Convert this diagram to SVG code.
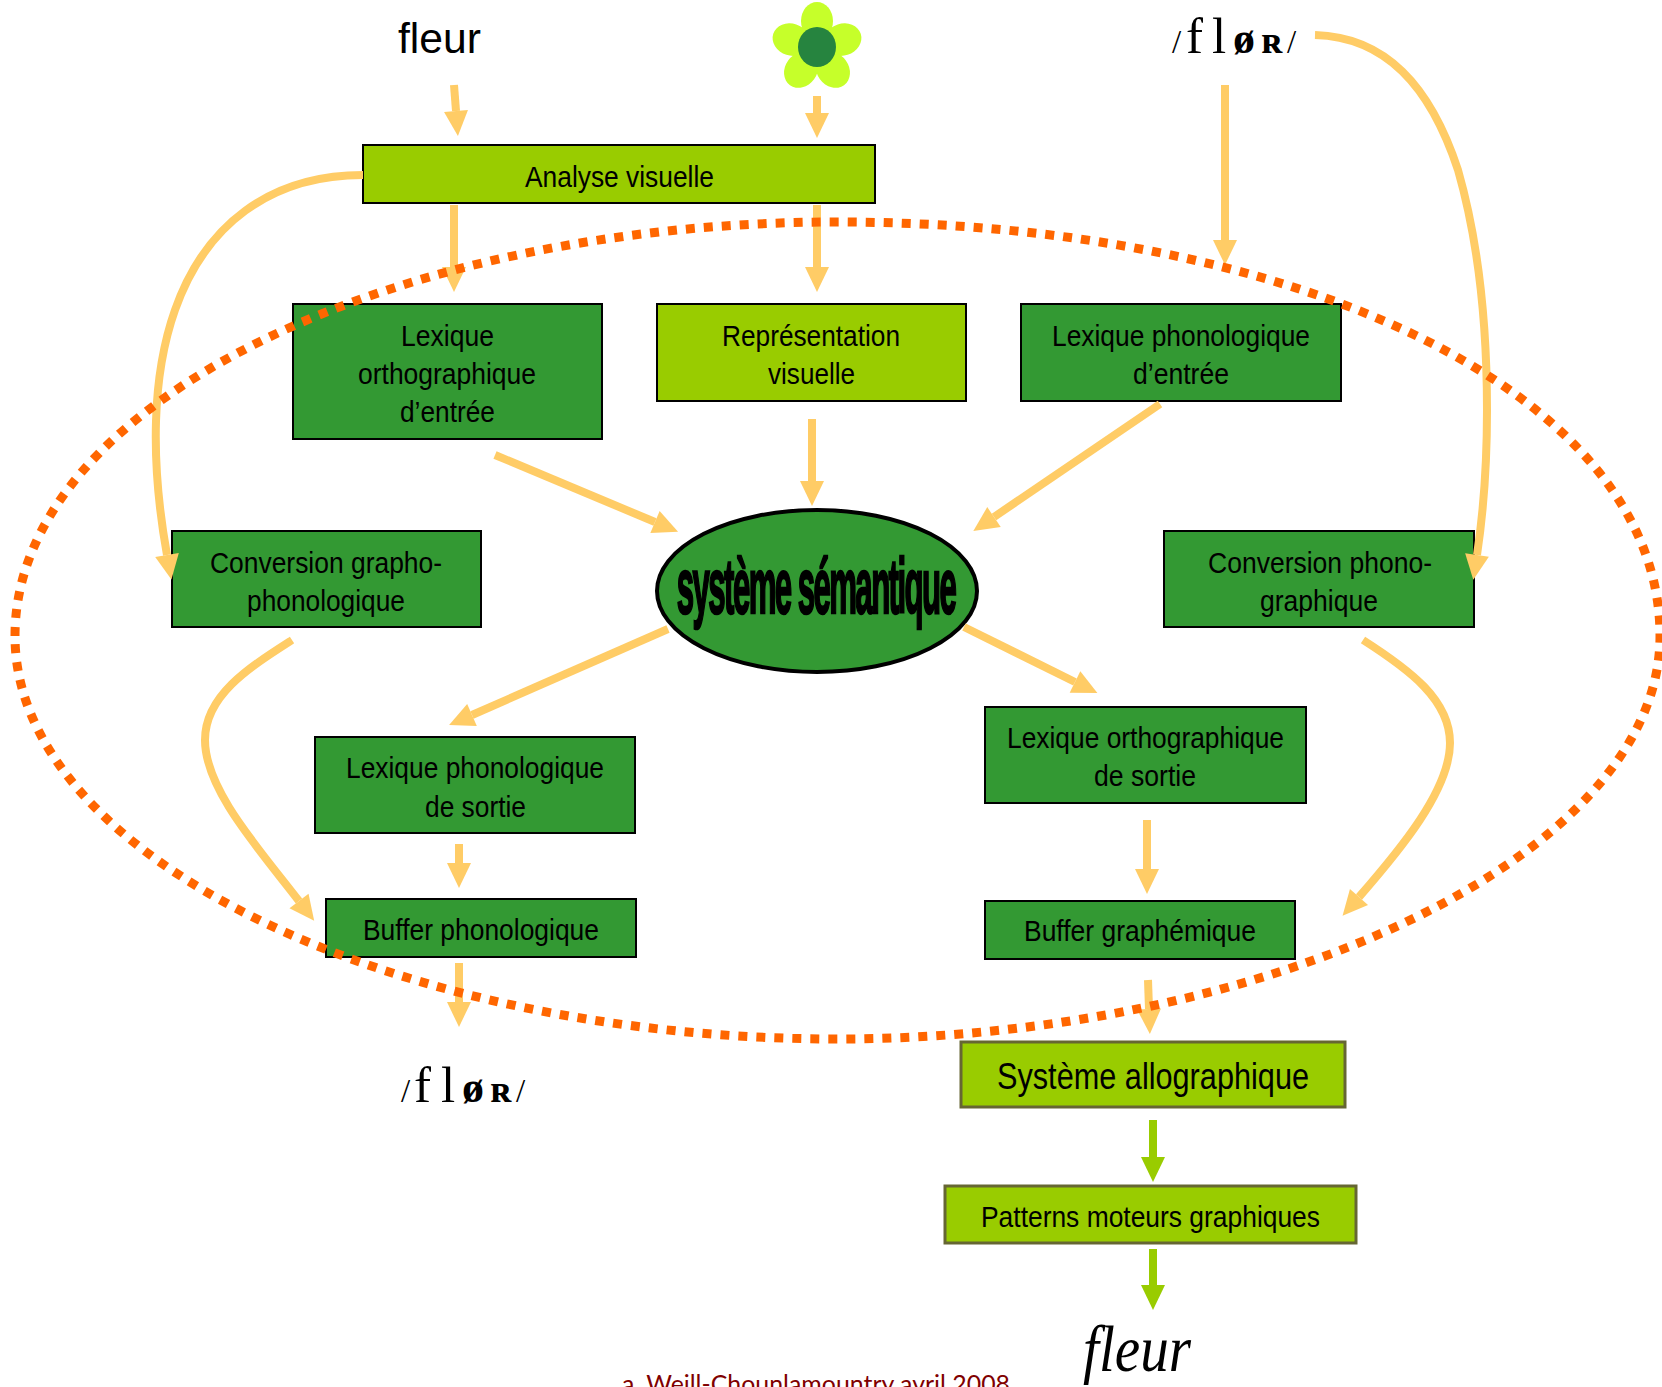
<svg xmlns="http://www.w3.org/2000/svg" width="1662" height="1387" viewBox="0 0 1662 1387">
<style>
.b{stroke:#000;stroke-width:2}
.dk{fill:#339933}
.lt{fill:#99CC00}
text{font-family:"Liberation Sans",Arial,sans-serif;fill:#000}
.t{font-size:30px}
.a{fill:none;stroke:#FFCC66;stroke-width:8;marker-end:url(#ah)}
.g{fill:none;stroke:#99CC00;stroke-width:8;marker-end:url(#gh)}
.ipa{font-family:"Liberation Serif","DejaVu Serif",serif}
.sl{font-size:33px}
.bg{font-size:51px}
.sm{font-size:44px;font-weight:bold}
.rr{font-size:38px;font-weight:bold}
</style>
<defs>
<marker id="ah" markerUnits="userSpaceOnUse" markerWidth="30" markerHeight="28" refX="0" refY="14" orient="auto" overflow="visible"><path d="M0 2L25 14L0 26z" fill="#FFCC66"/></marker>
<marker id="gh" markerUnits="userSpaceOnUse" markerWidth="30" markerHeight="28" refX="0" refY="14" orient="auto" overflow="visible"><path d="M0 2L25 14L0 26z" fill="#99CC00"/></marker>
</defs>
<g id="analyse"><rect class="b lt" x="363" y="145" width="512" height="58"/><text class="t" x="525" y="187" textLength="189" lengthAdjust="spacingAndGlyphs">Analyse visuelle</text></g>
<g id="lex-ortho-entree"><rect class="b dk" x="293" y="304" width="309" height="135"/>
<text class="t" x="401" y="346" textLength="93" lengthAdjust="spacingAndGlyphs">Lexique</text>
<text class="t" x="358" y="384" textLength="178" lengthAdjust="spacingAndGlyphs">orthographique</text>
<text class="t" x="400" y="422" textLength="95" lengthAdjust="spacingAndGlyphs">d’entrée</text></g>
<g id="representation"><rect class="b lt" x="657" y="304" width="309" height="97"/>
<text class="t" x="722" y="346" textLength="178" lengthAdjust="spacingAndGlyphs">Représentation</text>
<text class="t" x="768" y="384" textLength="87" lengthAdjust="spacingAndGlyphs">visuelle</text></g>
<g id="lex-phono-entree"><rect class="b dk" x="1021" y="304" width="320" height="97"/>
<text class="t" x="1052" y="346" textLength="258" lengthAdjust="spacingAndGlyphs">Lexique phonologique</text>
<text class="t" x="1133" y="384" textLength="96" lengthAdjust="spacingAndGlyphs">d’entrée</text></g>
<g id="conv-grapho"><rect class="b dk" x="172" y="531" width="309" height="96"/>
<text class="t" x="210" y="573" textLength="232" lengthAdjust="spacingAndGlyphs">Conversion grapho-</text>
<text class="t" x="247" y="611" textLength="158" lengthAdjust="spacingAndGlyphs">phonologique</text></g>
<g id="conv-phono"><rect class="b dk" x="1164" y="531" width="310" height="96"/>
<text class="t" x="1208" y="573" textLength="224" lengthAdjust="spacingAndGlyphs">Conversion phono-</text>
<text class="t" x="1260" y="611" textLength="118" lengthAdjust="spacingAndGlyphs">graphique</text></g>
<g id="semantique"><ellipse cx="817" cy="591" rx="160" ry="81" fill="#339933" stroke="#000" stroke-width="4"/>
<text transform="scale(0.4 1)" x="1692" y="613" font-size="78" font-weight="bold" stroke="#000" stroke-width="2.5" textLength="700" lengthAdjust="spacing">système sémantique</text></g>
<g id="lex-phono-sortie"><rect class="b dk" x="315" y="737" width="320" height="96"/>
<text class="t" x="346" y="778" textLength="258" lengthAdjust="spacingAndGlyphs">Lexique phonologique</text>
<text class="t" x="425" y="817" textLength="101" lengthAdjust="spacingAndGlyphs">de sortie</text></g>
<g id="lex-ortho-sortie"><rect class="b dk" x="985" y="707" width="321" height="96"/>
<text class="t" x="1007" y="748" textLength="277" lengthAdjust="spacingAndGlyphs">Lexique orthographique</text>
<text class="t" x="1094" y="786" textLength="102" lengthAdjust="spacingAndGlyphs">de sortie</text></g>
<g id="buffer-phono"><rect class="b dk" x="326" y="899" width="310" height="58"/>
<text class="t" x="363" y="940" textLength="236" lengthAdjust="spacingAndGlyphs">Buffer phonologique</text></g>
<g id="buffer-graph"><rect class="b dk" x="985" y="901" width="310" height="58"/>
<text class="t" x="1024" y="941" textLength="232" lengthAdjust="spacingAndGlyphs">Buffer graphémique</text></g>
<g id="allographique"><rect class="lt" x="961" y="1042" width="384" height="65" stroke="#666633" stroke-width="3"/>
<text x="997" y="1089" font-size="36" textLength="312" lengthAdjust="spacingAndGlyphs">Système allographique</text></g>
<g id="patterns"><rect class="lt" x="945" y="1186" width="411" height="57" stroke="#666633" stroke-width="3"/>
<text class="t" x="981" y="1227" textLength="339" lengthAdjust="spacingAndGlyphs">Patterns moteurs graphiques</text></g>
<g id="connectors">
<path class="a" d="M454 85L456 111"/>
<path class="a" d="M817 96V113"/>
<path class="a" d="M454 205V267"/>
<path class="a" d="M817 205V267"/>
<path class="a" d="M1225 85V240"/>
<path class="a" d="M1315 35C1385 37 1430 85 1458 170C1478 240 1487 320 1487 410C1487 470 1483 515 1477 555"/>
<path class="a" d="M363 175C270 175 205 225 175 310C152 375 150 460 167 555"/>
<path class="a" d="M495 455L655 522"/>
<path class="a" d="M812 419V481"/>
<path class="a" d="M1160 404L994 517"/>
<path class="a" d="M668 629L472 715"/>
<path class="a" d="M964 627L1075 682"/>
<path class="a" d="M459 844V863"/>
<path class="a" d="M1147 820V869"/>
<path class="a" d="M292 640C250 667 205 695 205 740C205 790 260 850 299 901"/>
<path class="a" d="M1363 640C1410 670 1450 700 1450 743C1450 790 1400 850 1359 897"/>
<path class="a" d="M459 963V1002"/>
<path class="a" d="M1148 980L1149 1009"/>
<path class="g" d="M1153 1120V1157"/>
<path class="g" d="M1153 1249V1285"/>
</g>
<path id="boucle" d="M15 636C15 400 400 222 837 222C1290 222 1660 390 1660 636C1660 860 1260 1039 837 1039C400 1039 15 860 15 636Z" fill="none" stroke="#FF6600" stroke-width="9" stroke-dasharray="9 9"/>
<g id="mot-ecrit"><text x="398" y="53" font-size="42" textLength="83" lengthAdjust="spacingAndGlyphs">fleur</text></g>
<g id="fleur-image" fill="#C6FF2A"><ellipse cx="817" cy="21" rx="16" ry="19"/><ellipse cx="817" cy="21" rx="16" ry="19" transform="rotate(72 817 48)"/><ellipse cx="817" cy="21" rx="16" ry="19" transform="rotate(144 817 48)"/><ellipse cx="817" cy="21" rx="16" ry="19" transform="rotate(216 817 48)"/><ellipse cx="817" cy="21" rx="16" ry="19" transform="rotate(288 817 48)"/><circle cx="817" cy="48" r="22"/><ellipse cx="817" cy="47" rx="19" ry="20" fill="#26843F"/></g>
<g id="phon-entree"><text class="ipa" y="53"><tspan class="sl" x="1172">/</tspan><tspan class="bg" x="1186">f</tspan><tspan class="bg" x="1212">l</tspan><tspan class="sm" x="1233">ø</tspan><tspan class="rr" x="1261">ʀ</tspan><tspan class="sl" x="1287">/</tspan></text></g>
<g id="phon-sortie"><text class="ipa" y="1102"><tspan class="sl" x="401">/</tspan><tspan class="bg" x="414">f</tspan><tspan class="bg" x="441">l</tspan><tspan class="sm" x="462">ø</tspan><tspan class="rr" x="490">ʀ</tspan><tspan class="sl" x="516">/</tspan></text></g>
<g id="mot-final"><text x="1083" y="1371" font-size="66" font-style="italic" textLength="108" lengthAdjust="spacingAndGlyphs" style="font-family:'Liberation Serif',serif">fleur</text></g>
<g id="credit"><text x="622" y="1393" font-size="25" style="fill:#800000;font-family:'Lato',sans-serif" textLength="388" lengthAdjust="spacingAndGlyphs">a. Weill-Chounlamountry avril 2008</text></g>
</svg>
